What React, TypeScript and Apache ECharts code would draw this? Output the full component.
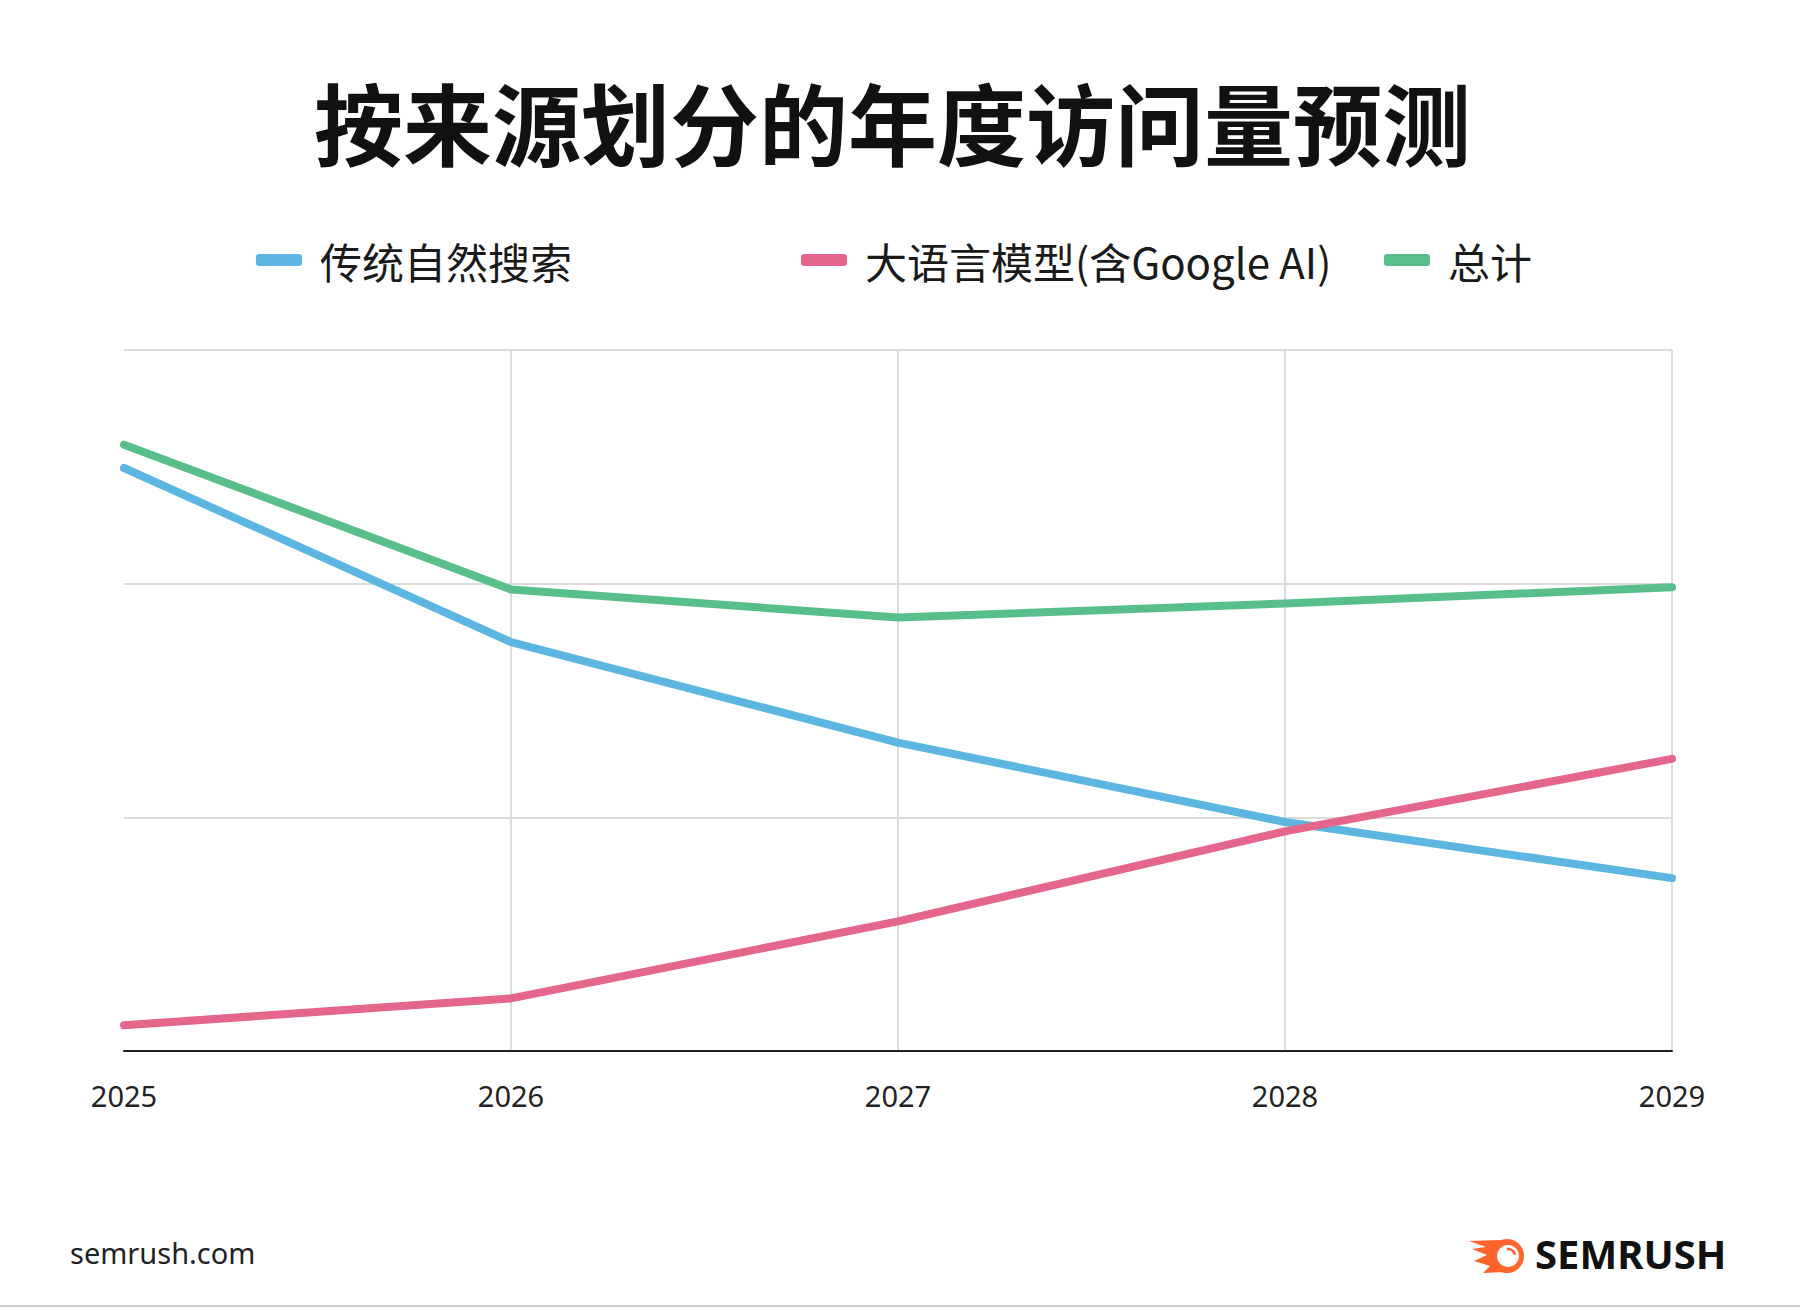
import React, { useEffect, useRef } from "react";
import * as echarts from "echarts";

const years = ["2025", "2026", "2027", "2028", "2029"];
const organic = [249.5, 175, 132, 98, 74];
const llm = [11, 22.5, 55.5, 94, 125];
const total = [259.5, 197.5, 185.5, 191.5, 198.5];

const seriesNames = ["传统自然搜索", "大语言模型(含Google AI)", "总计"];
const seriesColors = ["#5DB6E1", "#E4668A", "#58BF8B"];
const legendLefts = [251, 796, 1379];

export default function App() {
  const ref = useRef<HTMLDivElement>(null);
  useEffect(() => {
    document.body.style.margin = "0";
    const chart = echarts.init(ref.current!, undefined, { renderer: "svg" });
    const dataSets = [organic, llm, total];
    const orange = "#FF642D";
    const ox = -7;
    const oy = -5;
    chart.setOption({
      animation: false,
      backgroundColor: "#ffffff",
      title: {
        text: "按来源划分的年度访问量预测",
        left: 309,
        top: 71,
        textStyle: {
          fontSize: 89,
          fontWeight: "bold",
          fontFamily: "Noto Sans CJK SC",
          color: "#111111",
        },
      },
      legend: seriesNames.map((n, i) => ({
        data: [n],
        left: legendLefts[i],
        top: 234,
        itemWidth: 46,
        itemHeight: 12,
        icon: "roundRect",
        textStyle: {
          fontSize: 42,
          fontFamily: "Noto Sans CJK SC",
          color: "#1a1a1a",
          padding: [0, 0, 0, 13],
        },
      })),
      grid: { left: 124, right: 144, top: 350, bottom: 259 },
      xAxis: {
        type: "category",
        data: years,
        boundaryGap: false,
        axisLine: { lineStyle: { color: "#222222", width: 2 } },
        axisTick: { show: false },
        axisLabel: {
          fontSize: 29,
          color: "#222222",
          fontFamily: "Noto Sans",
          margin: 30,
        },
        splitLine: {
          show: true,
          showMinLine: false,
          lineStyle: { color: "#dcdcdc", width: 2 },
        },
      },
      yAxis: {
        type: "value",
        min: 0,
        max: 300,
        interval: 100,
        axisLabel: { show: false },
        axisLine: { show: false },
        axisTick: { show: false },
        splitLine: { lineStyle: { color: "#dcdcdc", width: 2 } },
      },
      series: seriesNames.map((n, i) => ({
        name: n,
        type: "line",
        data: dataSets[i],
        showSymbol: false,
        symbol: "none",
        itemStyle: { color: seriesColors[i] },
        lineStyle: { color: seriesColors[i], width: 8, cap: "round", join: "round" },
        z: i === 1 ? 3 : 2,
      })),
      graphic: [
        {
          type: "text",
          left: 70,
          top: 1238,
          style: {
            text: "semrush.com",
            fontSize: 29,
            fontFamily: "Noto Sans",
            fill: "#222222",
          },
        },
        {
          type: "polygon",
          shape: {
            points: [
              [1476 + ox, 1246 + oy],
              [1508 + ox, 1245 + oy],
              [1512 + ox, 1277 + oy],
              [1490 + ox, 1278 + oy],
              [1497 + ox, 1271 + oy],
              [1481 + ox, 1266 + oy],
              [1494 + ox, 1260 + oy],
              [1479 + ox, 1254 + oy],
              [1493 + ox, 1252 + oy],
            ],
          },
          style: { fill: orange },
        },
        {
          type: "circle",
          shape: { cx: 1514 + ox, cy: 1261 + oy, r: 17 },
          style: { fill: orange },
        },
        {
          type: "circle",
          shape: { cx: 1515 + ox, cy: 1261 + oy, r: 11 },
          style: { fill: "#ffffff" },
        },
        {
          type: "arc",
          shape: { cx: 1515 + ox, cy: 1261 + oy, r: 7, startAngle: -Math.PI * 0.55, endAngle: -Math.PI * 0.05 },
          style: { stroke: orange, lineWidth: 2.5, fill: "none" },
        },
        {
          type: "text",
          left: 1535,
          top: 1233,
          style: {
            text: "SEMRUSH",
            fontSize: 40,
            fontWeight: "bold",
            fontFamily: "Noto Sans",
            fill: "#111111",
          },
        },
        {
          type: "line",
          shape: { x1: 0, y1: 1306, x2: 1800, y2: 1306 },
          style: { stroke: "#d0d0d0", lineWidth: 2 },
        },
      ],
    });
    return () => chart.dispose();
  }, []);
  return <div ref={ref} style={{ width: 1816, height: 1310 }} />;
}
